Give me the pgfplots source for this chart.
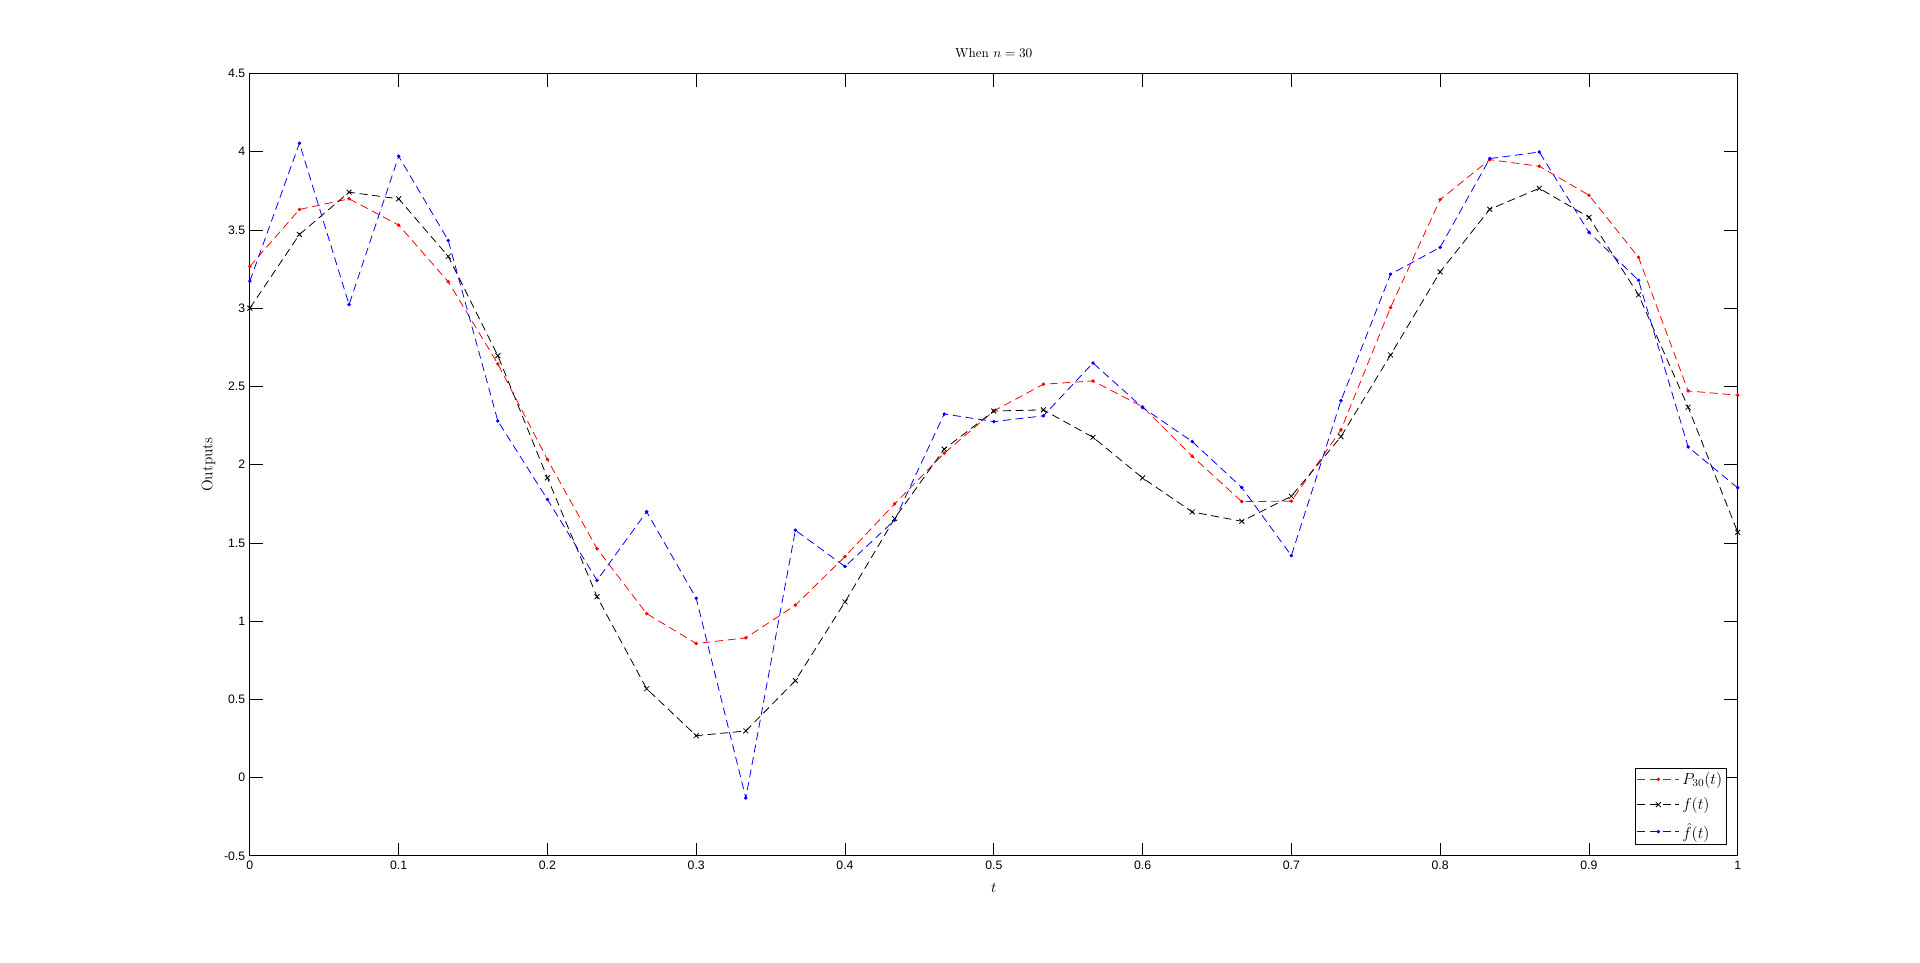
\documentclass[border=0pt]{standalone}
\usepackage{fontspec}
\newfontfamily\arial{Liberation Sans}
\usepackage{pgfplots}
\usepackage{pgfplotstable}
\pgfplotsset{compat=1.18}

\pgfplotstableread{
k red black blue
0 3.267 3.000 3.173
1 3.631 3.471 4.054
2 3.699 3.741 3.023
3 3.531 3.699 3.971
4 3.169 3.331 3.433
5 2.644 2.697 2.279
6 2.033 1.916 1.778
7 1.463 1.156 1.261
8 1.048 0.568 1.699
9 0.857 0.268 1.146
10 0.893 0.298 -0.130
11 1.102 0.620 1.581
12 1.413 1.123 1.349
13 1.749 1.656 1.645
14 2.073 2.099 2.324
15 2.343 2.343 2.275
16 2.514 2.350 2.312
17 2.535 2.175 2.650
18 2.370 1.915 2.365
19 2.054 1.698 2.148
20 1.764 1.638 1.854
21 1.767 1.798 1.419
22 2.222 2.179 2.409
23 3.004 2.701 3.217
24 3.694 3.232 3.389
25 3.949 3.632 3.956
26 3.907 3.766 3.998
27 3.722 3.581 3.485
28 3.325 3.085 3.178
29 2.471 2.367 2.113
30 2.444 1.568 1.852
}\approxdata

\begin{document}
\begin{tikzpicture}
\begin{axis}[
    at={(0,0)}, anchor=south west,
    scale only axis,
    width=1115.9pt, height=586.8pt,
    xmin=0, xmax=1, ymin=-0.5, ymax=4.5,
    xtick={0,0.1,...,1.0},
    ytick={-0.5,0,...,4.5},
    tick pos=both, tick align=inside,
    major tick length=10pt,
    axis line style={line width=0.6pt},
    every tick/.style={black, line width=0.6pt},
    /pgf/number format/assume math mode=true,
    /pgf/number format/fixed,
    /pgf/number format/precision=1,
    ticklabel style={font=\arial\fontsize{9.2}{11}\selectfont},
    title={When $n=30$},
    title style={font=\fontsize{9.8}{11}\selectfont, at={(0.5,1)}, anchor=south, yshift=2pt},
    xlabel={$t$},
    xlabel style={font=\fontsize{10.5}{12}\selectfont, at={(axis description cs:0.5,-0.0409)}, anchor=center},
    ylabel={Outputs},
    ylabel style={font=\fontsize{11.5}{13}\selectfont, at={(axis description cs:-0.0279,0.5)}, anchor=center},
    legend style={at={(1,0)}, anchor=south east, xshift=-8.2pt, yshift=8.2pt,
        draw=black, line width=0.5pt, fill=white, font=\fontsize{11.5}{12.5}\selectfont,
        row sep=4.5pt, inner sep=1.2pt},
    legend cell align=left,
    legend image code/.code={\draw[mark repeat=2, mark phase=2] plot coordinates {(0cm,0cm) (0.55cm,0cm) (1.1cm,0cm)};},
    every axis plot/.append style={line width=0.6pt, dash pattern=on 6pt off 3.5pt},
]
\addplot[red, mark=*, mark size=1pt, mark options={solid}] table[x expr=\thisrow{k}/30, y=red] {\approxdata};
\addplot[black, mark=x, mark size=2.6pt, mark options={solid}] table[x expr=\thisrow{k}/30, y=black] {\approxdata};
\addplot[blue, mark=*, mark size=1pt, mark options={solid}] table[x expr=\thisrow{k}/30, y=blue] {\approxdata};
\legend{$P_{30}(t)$, $f(t)$, $\hat{f}(t)$}
\end{axis}
\pgfresetboundingbox
\path[use as bounding box] (-187.4pt,-80.35pt) rectangle (1252.6pt,641.9pt);
\end{tikzpicture}
\end{document}
